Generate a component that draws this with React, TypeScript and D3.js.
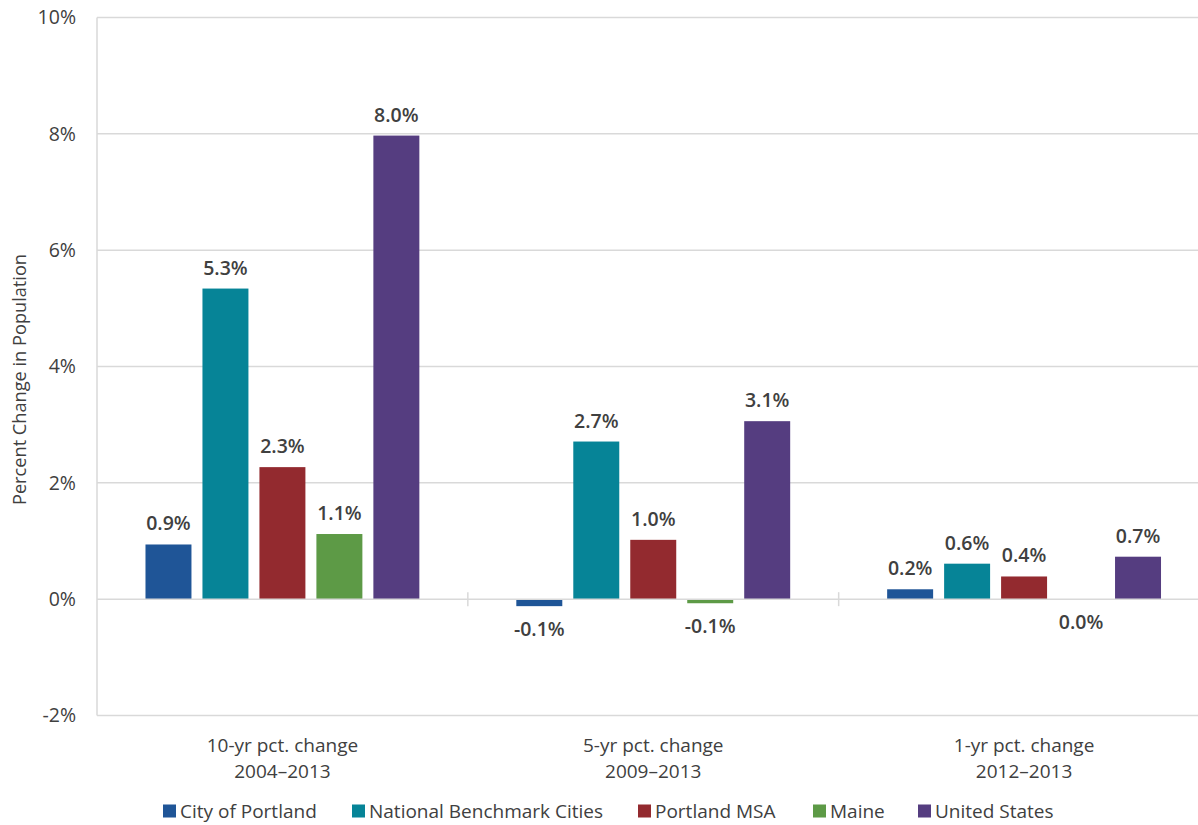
import React from "react";
import * as d3 from "d3";

const categories = ["10-yr pct. change|2004–2013", "5-yr pct. change|2009–2013", "1-yr pct. change|2012–2013"];
const seriesNames = ["City of Portland", "National Benchmark Cities", "Portland MSA", "Maine", "United States"];
const seriesColors = ["#1f5597", "#068497", "#932a2f", "#5d9a46", "#553d80"];

// Percent change per series, one entry per category
const cityOfPortland = [0.94, -0.12, 0.17];
const benchmarkCities = [5.34, 2.71, 0.61];
const portlandMSA = [2.27, 1.02, 0.39];
const maine = [1.12, -0.07, -0.004];
const unitedStates = [7.97, 3.06, 0.73];
const seriesValues = [cityOfPortland, benchmarkCities, portlandMSA, maine, unitedStates];

const yTicks = [-2, 0, 2, 4, 6, 8, 10];

const W = 1198;
const H = 825;
const FONT = "'Open Sans', sans-serif";
const TEXT = "#404040";
const GRID = "#d9d9d9";

export default function App() {
  const left = 97;
  const right = 1209.5;
  const y = d3.scaleLinear().domain([-2, 10]).range([715.5, 17.5]);
  const x0 = d3.scaleBand<string>().domain(categories).range([left, right]).padding(0);
  const x1 = d3
    .scaleBand<string>()
    .domain(seriesNames)
    .range([0, x0.bandwidth()])
    .paddingInner(0.193)
    .paddingOuter(0.851);
  const fmt = (v: number) => `${(Math.abs(v) < 0.05 ? 0 : v).toFixed(1)}%`;

  const legendX = [163, 352, 638, 813, 918];

  return (
    <svg width={W} height={H} style={{ position: "absolute", left: 0, top: 0, background: "#fff" }} fontFamily={FONT}>
      <rect width={W} height={H} fill="#fff" />
      {/* horizontal gridlines */}
      {yTicks.filter((t) => t !== 0).map((t) => (
        <line key={t} x1={left} x2={right} y1={y(t)} y2={y(t)} stroke={GRID} strokeWidth={1.5} />
      ))}
      {/* y axis line */}
      <line x1={left} x2={left} y1={y(10)} y2={y(-2)} stroke={GRID} strokeWidth={1.5} />
      {/* y tick labels */}
      {yTicks.map((t) => (
        <text key={t} x={76} y={y(t)} dy="0.35em" textAnchor="end" fontSize={19.5} fill={TEXT}>
          {`${t}%`}
        </text>
      ))}
      {/* y axis title */}
      <text
        transform={`translate(20, ${(y(10) + y(-2)) / 2 + 13}) rotate(-90)`}
        textAnchor="middle"
        dy="0.35em"
        fontSize={18.2}
        fill={TEXT}
      >
        Percent Change in Population
      </text>

      {/* bars */}
      {categories.map((c, ci) =>
        seriesNames.map((s, si) => {
          const v = seriesValues[si][ci];
          const bx = (x0(c) ?? 0) + (x1(s) ?? 0);
          const top = y(Math.max(0, v));
          const bottom = y(Math.min(0, v));
          return (
            <g key={`${c}-${s}`}>
              <rect x={bx} y={top} width={x1.bandwidth()} height={Math.max(0, bottom - top)} fill={seriesColors[si]} />
              <text
                x={bx + x1.bandwidth() / 2}
                y={v >= 0 ? top - 14 : bottom + 30}
                textAnchor="middle"
                fontSize={19.5}
                fontWeight={600}
                fill={TEXT}
              >
                {fmt(v)}
              </text>
            </g>
          );
        })
      )}

      {/* category axis at zero */}
      <line x1={left} x2={right} y1={y(0)} y2={y(0)} stroke={GRID} strokeWidth={1.5} />
      {categories.slice(1).map((c) => (
        <line key={c} x1={x0(c)} x2={x0(c)} y1={y(0) - 7} y2={y(0) + 7} stroke={GRID} strokeWidth={1.5} />
      ))}
      {categories.map((c) => {
        const [l1, l2] = c.split("|");
        const cx = (x0(c) ?? 0) + x0.bandwidth() / 2;
        return (
          <text key={c} x={cx} textAnchor="middle" fontSize={19} fill={TEXT}>
            <tspan x={cx} y={752}>{l1}</tspan>
            <tspan x={cx} y={777.5}>{l2}</tspan>
          </text>
        );
      })}

      {/* legend */}
      {seriesNames.map((s, i) => (
        <g key={s} transform={`translate(${legendX[i]}, 811)`}>
          <rect x={0} y={-6.5} width={13} height={13} fill={seriesColors[i]} />
          <text x={17} y={0} dy="0.35em" fontSize={19} fill={TEXT}>
            {s}
          </text>
        </g>
      ))}
    </svg>
  );
}
